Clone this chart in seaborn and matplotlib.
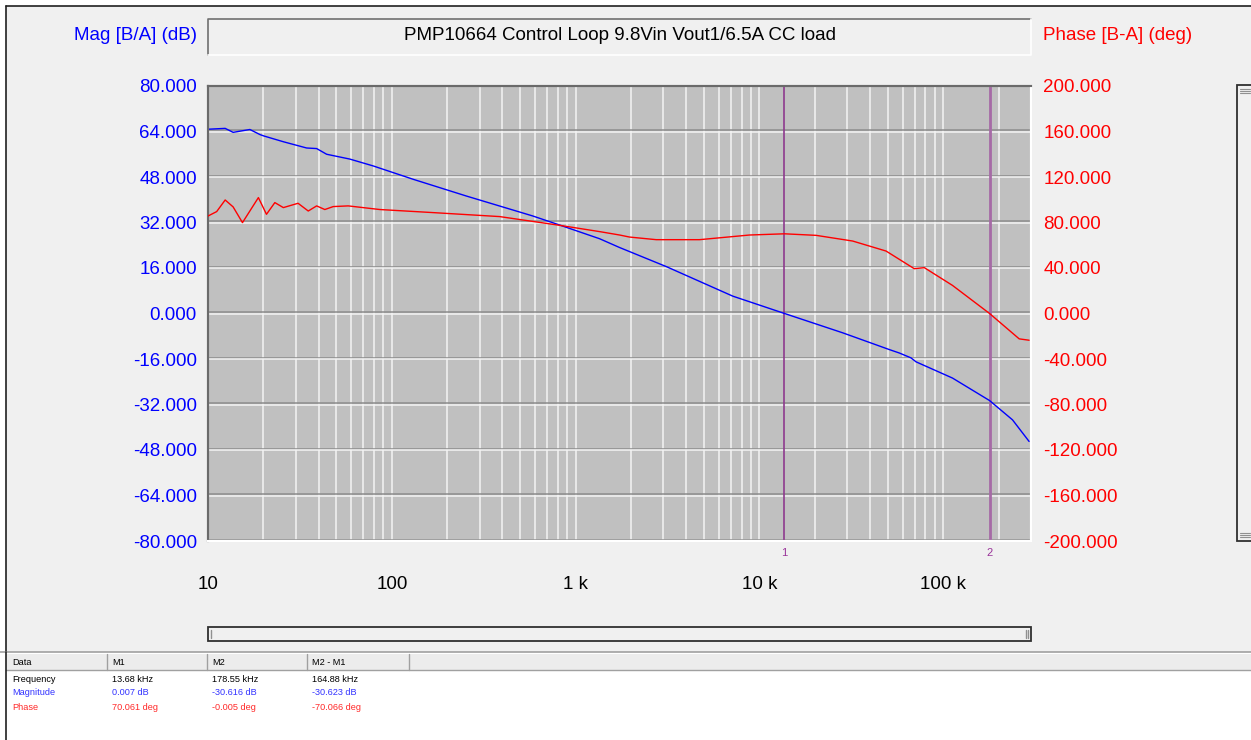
import numpy as np
import pandas as pd
import matplotlib
matplotlib.use("Agg")
import matplotlib.pyplot as plt
import matplotlib.patheffects as pe
from matplotlib.patches import Rectangle
from matplotlib.lines import Line2D
from matplotlib.ticker import FixedLocator, FixedFormatter, LogLocator, NullFormatter
import seaborn as sns

# ---------------- data ----------------
mag_freq = [10, 12.4, 13.7, 16.9, 19.2, 20.2, 25.7, 34.4, 39.0, 44.2, 59.1, 79.1,
            130.6, 254.7, 584, 819, 1349, 1734, 3111, 7161, 13680, 28380, 50930,
            57700, 66700, 71100, 112200, 178550, 238000, 293000]
mag_db = [64.8, 65.1, 63.7, 64.7, 62.9, 62.4, 60.4, 58.2, 58.0, 56.0, 54.3, 51.9,
          47.2, 41.3, 34.3, 31.1, 26.3, 23.2, 16.5, 6.1, 0.007, -6.8, -12.7,
          -13.9, -15.6, -17.0, -22.7, -30.616, -37.4, -45.0]

ph_freq = [10, 11.15, 12.4, 13.7, 15.4, 18.8, 20.8, 23.1, 25.7, 30.9, 35.1, 39.0,
           43.2, 48.0, 57.9, 86.1, 167.7, 386, 819, 1349, 1734, 1965, 2745, 4720,
           8824, 13680, 20330, 32140, 48830, 69500, 78850, 112200, 178550, 258800, 293000]
ph_deg = [85.7, 89.6, 99.8, 93.7, 79.9, 101.9, 87.2, 97.5, 93.1, 96.9, 90.1, 94.6,
          91.4, 94.0, 94.6, 91.4, 88.7, 85.2, 77.5, 72.0, 69.0, 67.2, 64.9, 64.9,
          69.0, 70.061, 68.7, 63.7, 54.9, 39.4, 40.3, 24.7, -0.005, -22.3, -23.5]

marker_names = ["1", "2"]
marker_freq = [13680, 178550]

mag_ticks = [80, 64, 48, 32, 16, 0, -16, -32, -48, -64, -80]
phase_ticks = [200, 160, 120, 80, 40, 0, -40, -80, -120, -160, -200]
x_ticks = [10, 100, 1000, 10000, 100000]
x_labels = ["10", "100", "1 k", "10 k", "100 k"]

title = "PMP10664 Control Loop 9.8Vin Vout1/6.5A CC load"
left_title = "Mag [B/A] (dB)"
right_title = "Phase [B-A] (deg)"

table_header = ["Data", "M1", "M2", "M2 - M1"]
table_rows = [
    ["Frequency", "13.68 kHz", "178.55 kHz", "164.88 kHz"],
    ["Magnitude", "0.007 dB", "-30.616 dB", "-30.623 dB"],
    ["Phase", "70.061 deg", "-0.005 deg", "-70.066 deg"],
]
row_colors = ["#000000", "#3333ff", "#ff2a2a"]

mag_df = pd.DataFrame({"freq": mag_freq, "mag": mag_db})
ph_df = pd.DataFrame({"freq": ph_freq, "phase": ph_deg})

# ---------------- style ----------------
sns.set_style("white")
plt.rcParams["font.family"] = ["Liberation Sans", "DejaVu Sans"]

W, H = 1251, 740
fig = plt.figure(figsize=(W / 100, H / 100), dpi=100)
fig.patch.set_facecolor("white")


def fx(x):
    return x / W


def fy(y):
    return 1 - y / H


def frect(x0, y0, x1, y1, **kw):
    r = Rectangle((fx(x0), fy(y1)), fx(x1) - fx(x0), fy(y0) - fy(y1),
                  transform=fig.transFigure, **kw)
    fig.add_artist(r)
    return r


def fline(xs, ys, **kw):
    l = Line2D([fx(v) for v in xs], [fy(v) for v in ys], transform=fig.transFigure, **kw)
    fig.add_artist(l)
    return l


# window background
frect(6, 6, W + 2, 652, facecolor="#f0f0f0", edgecolor="none", zorder=0)
fline([6, W], [6, 6], color="#202020", lw=1.2, zorder=1)
fline([6, 6], [6, H], color="#202020", lw=1.2, zorder=1)

# title box
frect(208, 19, 1031, 55, facecolor="#f0f0f0", edgecolor="none", zorder=1)
fline([208, 208, 1031], [55, 19, 19], color="#707070", lw=1.2, zorder=2)
fline([208, 1031, 1031], [55, 55, 19], color="#ffffff", lw=1.2, zorder=2)
fig.text(fx(619.5), fy(35), title, ha="center", va="center", fontsize=13.5, color="black")
fig.text(fx(197), fy(35), left_title, ha="right", va="center", fontsize=13.5, color="#0000ff")
fig.text(fx(1043), fy(35), right_title, ha="left", va="center", fontsize=13.5, color="#ff0000")

# ---------------- axes ----------------
x0, x1, y0, y1 = 208, 1031, 86, 541
ax = fig.add_axes([fx(x0), fy(y1), fx(x1) - fx(x0), fy(y0) - fy(y1)])
ax.set_facecolor("#c0c0c0")
ax2 = ax.twinx()

sns.lineplot(data=mag_df, x="freq", y="mag", ax=ax, color="#0000ff", linewidth=1.0,
             estimator=None, sort=False, zorder=5)
sns.lineplot(data=ph_df, x="freq", y="phase", ax=ax2, color="#ff0000", linewidth=1.0,
             estimator=None, sort=False, zorder=5)

ax.set_xscale("log")
ax.set_xlim(10, 3.0e5)
ax.set_ylim(-80, 80)
ax2.set_ylim(-200, 200)

ax.xaxis.set_major_locator(FixedLocator(x_ticks))
ax.xaxis.set_major_formatter(FixedFormatter(x_labels))
ax.xaxis.set_minor_locator(LogLocator(base=10, subs=np.arange(2, 10)))
ax.xaxis.set_minor_formatter(NullFormatter())
ax.set_yticks(mag_ticks)
ax.set_yticklabels([f"{v:.3f}" for v in mag_ticks])
ax2.set_yticks(phase_ticks)
ax2.set_yticklabels([f"{v:.3f}" for v in phase_ticks])

ax.tick_params(axis="x", which="both", length=0, pad=25, labelsize=13.5, labelcolor="black")
ax.tick_params(axis="y", length=0, pad=8, labelsize=13.5, labelcolor="#0000ff")
ax2.tick_params(axis="y", length=0, pad=9, labelsize=13.5, labelcolor="#ff0000")
ax.set_xlabel("")
ax.set_ylabel("")
ax2.set_ylabel("")

# grid
ax.set_axisbelow(True)
ax.grid(True, axis="x", which="both", color="#f4f4f4", linewidth=1.1)
ax.grid(True, axis="y", which="major", color="#f4f4f4", linewidth=1.1,
        path_effects=[pe.SimpleLineShadow(offset=(0, 1.0), shadow_color="#8c8c8c", alpha=1.0),
                      pe.Normal()])
ax2.grid(False)

# spines (3D inset look)
for a in (ax, ax2):
    a.spines["top"].set_color("#6a6a6a")
    a.spines["left"].set_color("#6a6a6a")
    a.spines["bottom"].set_color("#ffffff")
    a.spines["right"].set_color("#ffffff")
    for s in a.spines.values():
        s.set_linewidth(1.5)

# markers
marker_styles = [dict(color="#8e3a8e", lw=1.2), dict(color="#a66aa6", lw=2.0)]
for name, f, st in zip(marker_names, marker_freq, marker_styles):
    ax.axvline(f, zorder=4, **st)
    ax.annotate(name, xy=(f, 0), xycoords=("data", "axes fraction"),
                xytext=(0, -9), textcoords="offset points",
                ha="center", va="center", fontsize=8, color="#993399")

# ---------------- scrollbars ----------------
frect(208, 627, 1031, 641, facecolor="#f0f0f0", edgecolor="#303030", lw=1.3, zorder=2)
fline([211, 211], [630, 638], color="#909090", lw=1.0, zorder=3)
fline([1026, 1026], [630, 638], color="#909090", lw=1.0, zorder=3)
fline([1028, 1028], [630, 638], color="#909090", lw=1.0, zorder=3)

frect(1237, 85, 1252, 541, facecolor="#f0f0f0", edgecolor="#303030", lw=1.3, zorder=2)
for yy in (89, 91, 93):
    fline([1240, 1250], [yy, yy], color="#909090", lw=0.8, zorder=3)
for yy in (533, 535, 537):
    fline([1240, 1250], [yy, yy], color="#909090", lw=0.8, zorder=3)

# ---------------- bottom table ----------------
frect(0, 652, W + 2, H + 2, facecolor="white", edgecolor="none", zorder=1)
frect(6, 654, W + 2, 670, facecolor="#ececec", edgecolor="none", zorder=2)
fline([0, W], [652, 652], color="#a0a0a0", lw=1.2, zorder=3)
fline([6, W], [670, 670], color="#a0a0a0", lw=1.0, zorder=3)
for xx in (107, 207, 307, 409):
    fline([xx, xx], [654, 670], color="#a0a0a0", lw=1.0, zorder=3)
fline([6, 6], [652, H], color="#202020", lw=1.2, zorder=3)

col_x = [12, 112, 212, 312]
for cx, txt in zip(col_x, table_header):
    fig.text(fx(cx), fy(662.5), txt, ha="left", va="center", fontsize=6.6, color="black", zorder=4)
row_y = [679, 692.5, 707]
for ry, row, rc in zip(row_y, table_rows, row_colors):
    for cx, txt in zip(col_x, row):
        fig.text(fx(cx), fy(ry), txt, ha="left", va="center", fontsize=6.6, color=rc, zorder=4)

fig.savefig("out.png", dpi=100, facecolor=fig.get_facecolor())
